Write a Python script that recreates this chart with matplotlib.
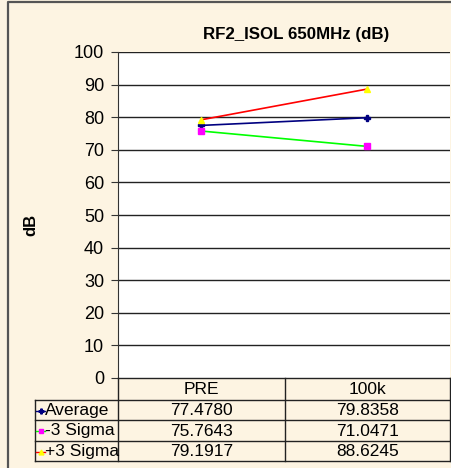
import matplotlib.pyplot as plt
from matplotlib.lines import Line2D

plt.rcParams['font.family'] = ['Liberation Sans', 'DejaVu Sans']

categories = ["PRE", "100k"]
series_names = ["Average", "-3 Sigma", "+3 Sigma"]
average = [77.4780, 79.8358]
minus3 = [75.7643, 71.0471]
plus3 = [79.1917, 88.6245]
series_values = [average, minus3, plus3]
yticks = [0, 10, 20, 30, 40, 50, 60, 70, 80, 90, 100]

line_colors = ["#000080", "#00FF00", "#FF0000"]
marker_colors = ["#000080", "#FF00FF", "#FFFF00"]
markers = ["P", "s", "^"]
msizes = [4, 5, 5]

W, H = 451, 468
bg = "#FDF4E2"

fig = plt.figure(figsize=(W / 100, H / 100), dpi=100)
fig.patch.set_facecolor(bg)

def fx(px):
    return px / W

def fy(py):
    return 1 - py / H

# outer frame, only left and top edges fall inside the picture
fig.lines.append(Line2D([fx(8), fx(8), fx(460)], [fy(470), fy(2), fy(2)],
                        transform=fig.transFigure, color="#555555", linewidth=1.6))

left, right, top, bottom = 118, 450, 52, 378
ax = fig.add_axes([fx(left), fy(bottom), fx(right) - fx(left), fy(top) - fy(bottom)])
ax.set_facecolor("white")
ax.set_xlim(-0.5, 1.5)
ax.set_ylim(0, 100)
ax.set_yticks(yticks)
ax.set_yticklabels([str(v) for v in yticks], fontsize=13)
ax.tick_params(axis="y", length=5, width=0.8, pad=5, color="#333333")
ax.set_xticks([])
for v in yticks[1:]:
    ax.axhline(v, color="#222222", linewidth=1.0, zorder=1)
for s in ["top", "right", "bottom"]:
    ax.spines[s].set_visible(False)
ax.spines["left"].set_color("#333333")

xs = list(range(len(categories)))
for vals, lc, mc, m, ms in zip(series_values, line_colors, marker_colors, markers, msizes):
    ax.plot(xs, vals, color=lc, linewidth=1.2, marker=m, markersize=ms,
            markerfacecolor=mc, markeredgecolor=mc, zorder=3, clip_on=False)

fig.text(fx(296), fy(34), "RF2_ISOL 650MHz (dB)", fontsize=12.2, fontweight="bold",
         ha="center", va="center")
fig.text(fx(31), fy(225), "dB", rotation=90, fontsize=12, fontweight="bold",
         ha="center", va="center")

# data table under the plot
tab = fig.add_axes([0, 0, 1, 1], facecolor="none")
tab.set_xlim(0, W)
tab.set_ylim(H, 0)
tab.axis("off")

row_y = [378, 400, 420, 441, 461]
col_x = [35, 118, 285, 450]
lc_ = "#222222"
lw = 1.0
tab.add_line(Line2D([118, 450], [378, 378], color=lc_, lw=lw))
tab.add_line(Line2D([118, 118], [378, 461], color=lc_, lw=lw))
tab.add_line(Line2D([285, 285], [378, 461], color=lc_, lw=lw))
tab.add_line(Line2D([450, 450], [378, 461], color=lc_, lw=lw))
tab.add_line(Line2D([35, 35], [400, 461], color=lc_, lw=lw))
for y in row_y[1:]:
    tab.add_line(Line2D([35, 450], [y, y], color=lc_, lw=lw))

fs = 12.5
for j, c in enumerate(categories):
    tab.text((col_x[j + 1] + col_x[j + 2]) / 2, (row_y[0] + row_y[1]) / 2 + 1, c,
             ha="center", va="center", fontsize=fs)

for i, (name, vals) in enumerate(zip(series_names, series_values)):
    yc = (row_y[i + 1] + row_y[i + 2]) / 2 + 0.5
    tab.add_line(Line2D([36, 45], [yc, yc], color=line_colors[i], lw=1.0))
    tab.plot([40.5], [yc], marker=markers[i], markersize=3.5, color=marker_colors[i],
             markeredgecolor=marker_colors[i])
    tab.text(45, yc, name, ha="left", va="center", fontsize=fs)
    for j, v in enumerate(vals):
        tab.text((col_x[j + 1] + col_x[j + 2]) / 2, yc, f"{v:.4f}",
                 ha="center", va="center", fontsize=fs)

fig.savefig("out.png", dpi=100, facecolor=fig.get_facecolor())
